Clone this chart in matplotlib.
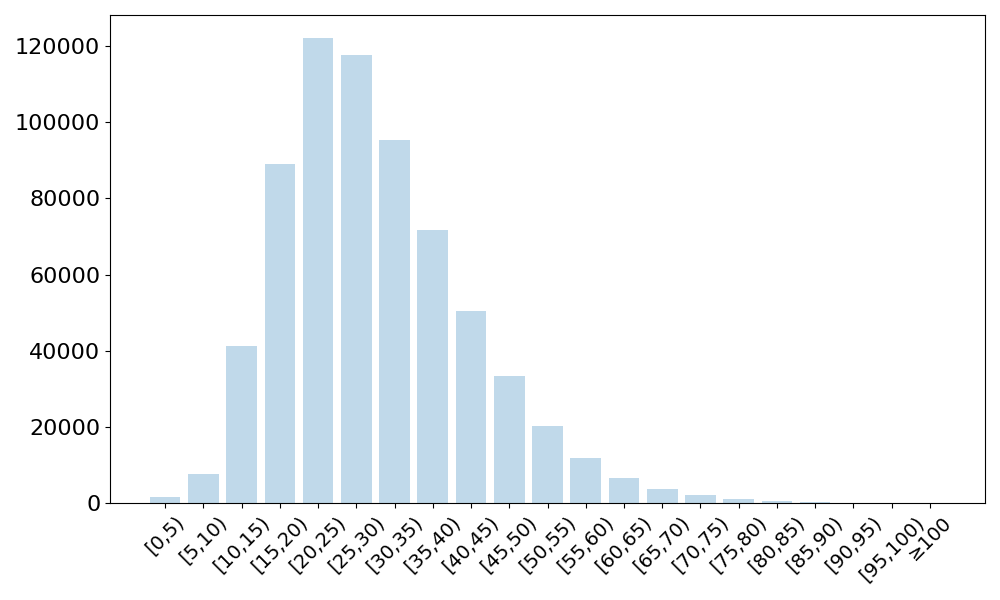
import matplotlib
matplotlib.use("Agg")
import matplotlib.pyplot as plt

categories = ["[0,5)", "[5,10)", "[10,15)", "[15,20)", "[20,25)", "[25,30)", "[30,35)",
              "[35,40)", "[40,45)", "[45,50)", "[50,55)", "[55,60)", "[60,65)", "[65,70)",
              "[70,75)", "[75,80)", "[80,85)", "[85,90)", "[90,95)", "[95,100)", "≥100"]
counts = [1600, 7600, 41200, 89000, 122100, 117600, 95300, 71700, 50400, 33400, 20200,
          11800, 6600, 3700, 2100, 1100, 500, 250, 60, 25, 10]

fig, ax = plt.subplots(figsize=(10, 6), dpi=100)
ax.bar(range(len(categories)), counts, color="C0", alpha=0.28)
ax.set_xticks(range(len(categories)))
ax.set_xticklabels(categories, rotation=45, fontsize=14)
ax.tick_params(axis="y", labelsize=16)
fig.subplots_adjust(left=0.11, right=0.985, top=0.975, bottom=0.162)
fig.savefig("out.png")
